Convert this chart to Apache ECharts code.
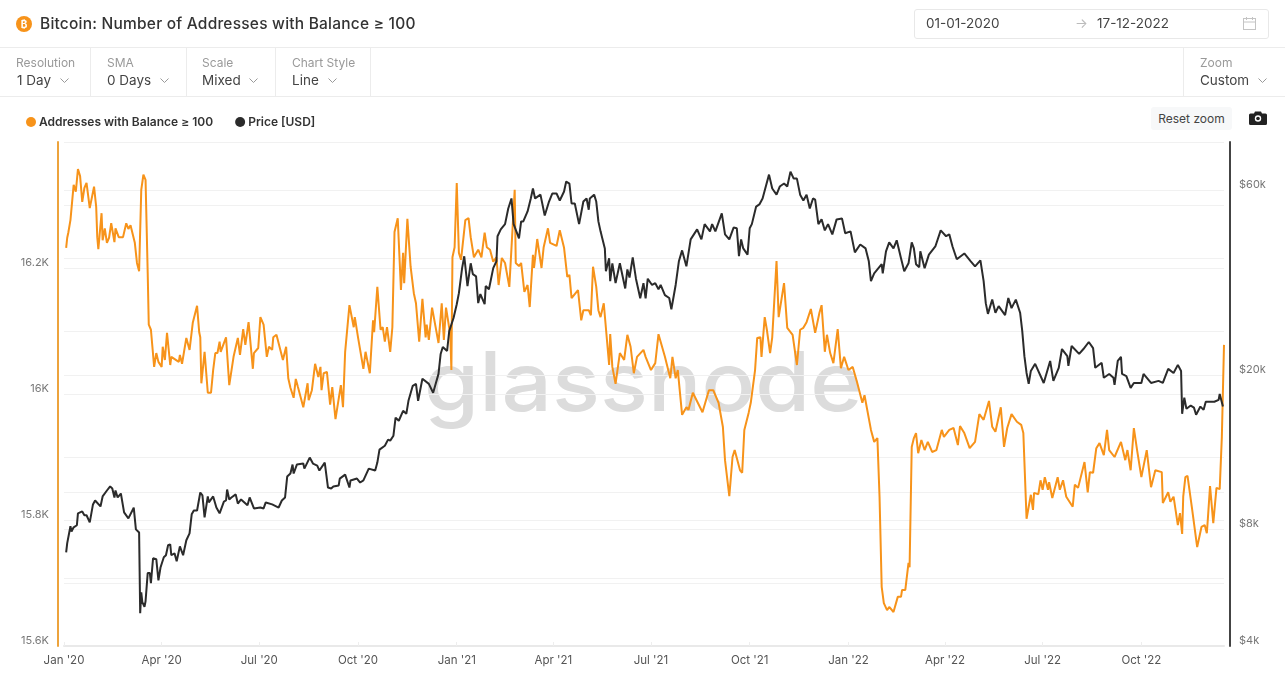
<!DOCTYPE html>
<html>
<head>
<meta charset="utf-8">
<title>Bitcoin: Number of Addresses with Balance ≥ 100</title>
<script src="https://cdn.jsdelivr.net/npm/echarts@6/dist/echarts.min.js"></script>
<style>
    html, body { margin: 0; padding: 0; background: #fff; font-family: Inter, "Noto Sans", sans-serif; color: #3c3c3c; }
    #page { position: relative; width: 1285px; height: 686px; overflow: hidden; }
    #chart { position: absolute; left: 0; top: 0; width: 1285px; height: 686px; }
    .abs { position: absolute; white-space: nowrap; }
    #btc { left: 16px; top: 16px; width: 16px; height: 16px; border-radius: 50%; background: #f7931a; color: #fff; font-size: 10px; font-weight: 700; line-height: 16px; text-align: center; }
    #title { left: 40px; top: 14px; font-size: 15.5px; line-height: 20px; font-weight: 500; letter-spacing: .22px; color: #333; }
    #dates { left: 914px; top: 9px; width: 353px; height: 28px; border: 1px solid #e8e8e8; border-radius: 3px; }
    .date { top: 5px; font-size: 13.5px; line-height: 16px; color: #444; }
    #bar { left: 0; top: 47px; width: 1285px; height: 48px; border-top: 1px solid #ececec; border-bottom: 1px solid #ececec; }
    .sep { top: 0; width: 1px; height: 48px; background: #ececec; }
    .lab { top: 7px; font-size: 12px; line-height: 15px; color: #999; }
    .val { top: 24px; font-size: 13.5px; line-height: 17px; color: #444; }
    .val svg { margin-left: 5px; vertical-align: 1px; }
    #reset { left: 1151px; top: 107px; width: 81px; height: 23px; background: #f7f8f9; border-radius: 3px; font-size: 12px; line-height: 23px; text-align: center; color: #444; }
</style>
</head>
<body>
<div id="page">
    <div id="chart"></div>
    <div class="abs" id="btc">₿</div>
    <div class="abs" id="title">Bitcoin: Number of Addresses with Balance ≥ 100</div>
    <div class="abs" id="dates">
        <span class="abs date" style="left:11px">01-01-2020</span>
        <span class="abs date" style="left:160px;color:#bbb">→</span>
        <span class="abs date" style="left:182px">17-12-2022</span>
        <svg class="abs" style="left:328px;top:7px" width="13" height="13" viewBox="0 0 13 13" fill="none" stroke="#c4c4c4"><rect x=".5" y="1.5" width="12" height="11"/><path d="M.5 5h12M3.5 0v3M9.5 0v3"/></svg>
    </div>
    <div class="abs" id="bar">
        <div class="abs sep" style="left:90px"></div>
        <div class="abs sep" style="left:186px"></div>
        <div class="abs sep" style="left:275px"></div>
        <div class="abs sep" style="left:370px"></div>
        <div class="abs sep" style="left:1183px"></div>
        <div class="abs lab" style="left:16px">Resolution</div>
        <div class="abs val" style="left:17px">1 Day <svg width="9" height="6"><path d="M.5.5l4 4 4-4" fill="none" stroke="#999"/></svg></div>
        <div class="abs lab" style="left:107px">SMA</div>
        <div class="abs val" style="left:107px">0 Days <svg width="9" height="6"><path d="M.5.5l4 4 4-4" fill="none" stroke="#999"/></svg></div>
        <div class="abs lab" style="left:202px">Scale</div>
        <div class="abs val" style="left:202px">Mixed <svg width="9" height="6"><path d="M.5.5l4 4 4-4" fill="none" stroke="#999"/></svg></div>
        <div class="abs lab" style="left:292px">Chart Style</div>
        <div class="abs val" style="left:292px">Line <svg width="9" height="6"><path d="M.5.5l4 4 4-4" fill="none" stroke="#999"/></svg></div>
        <div class="abs lab" style="left:1200px">Zoom</div>
        <div class="abs val" style="left:1200px">Custom <svg width="9" height="6"><path d="M.5.5l4 4 4-4" fill="none" stroke="#999"/></svg></div>
    </div>
    <div class="abs" id="reset">Reset zoom</div>
    <svg class="abs" style="left:1249px;top:111px" width="18" height="14" viewBox="0 0 18 14"><path d="M1.5 2.5h3.5l1-2h6l1 2h3.500q1.500 0 1.500 1.500v8.500q0 1.500-1.500 1.500h-15q-1.500 0-1.500-1.500v-8.500q0-1.500 1.500-1.500z" fill="#222"/><circle cx="9" cy="7.500" r="3.200" fill="#fff"/><circle cx="9" cy="7.500" r="1.800" fill="#222"/></svg>
</div>
<script>
// x positions are days since 2020-01-01
var tickDays = [0, 91, 182, 274, 366, 456, 547, 639, 731, 821, 912, 1004];
var tickLabels = ["Jan '20", "Apr '20", "Jul '20", "Oct '20", "Jan '21", "Apr '21", "Jul '21", "Oct '21", "Jan '22", "Apr '22", "Jul '22", "Oct '22"];
var lastDay = 1081;

var addressGrid = [15600, 15700, 15800, 15900, 16000, 16100, 16200, 16300, 16400];
var addressLabels = [15600, 15800, 16000, 16200];
var priceGrid = [4000, 6000, 8000, 10000, 20000, 40000, 60000];
var priceLabels = [4000, 8000, 20000, 60000];

var addressPoints = [
    [2,16232],[3,16248],[4,16256],[6,16276],[7,16278],[9,16332],[11,16321],[13,16357],[15,16346],[16,16344],
    [17,16305],[19,16327],[21,16335],[24,16295],[25,16295],[28,16329],[30,16297],[31,16249],[32,16230],[35,16287],
    [36,16244],[38,16263],[40,16240],[42,16248],[44,16271],[47,16241],[48,16263],[51,16249],[55,16249],[58,16271],
    [60,16262],[62,16268],[66,16240],[68,16208],[70,16195],[72,16324],[74,16348],[76,16340],[78,16192],[79,16110],
    [81,16102],[84,16043],[86,16065],[88,16051],[91,16043],[92,16075],[94,16054],[96,16097],[99,16046],[100,16059],
    [107,16051],[108,16062],[110,16048],[114,16089],[117,16070],[120,16113],[124,16140],[126,16098],[127,16090],[128,16017],
    [131,16067],[134,16002],[137,16002],[139,16038],[141,16065],[143,16065],[145,16083],[146,16067],[151,16090],[154,16014],
    [158,16059],[162,16089],[164,16062],[167,16103],[169,16078],[172,16114],[176,16040],[177,16065],[181,16073],[183,16122],
    [186,16110],[189,16059],[191,16075],[194,16070],[195,16090],[198,16094],[204,16054],[207,16075],[209,16025],[211,16010],
    [214,15994],[216,16024],[218,16011],[223,15979],[227,16017],[228,15990],[231,16006],[234,16048],[237,16027],[239,16043],
    [240,16006],[242,16033],[245,16035],[248,15983],[250,16011],[253,15960],[258,16014],[260,15979],[262,16067],[266,16141],
    [270,16106],[271,16122],[274,16090],[279,16040],[281,16067],[285,16033],[288,16117],[289,16098],[292,16170],[295,16102],
    [297,16106],[299,16083],[301,16106],[304,16067],[306,16106],[308,16257],[311,16279],[314,16165],[316,16224],[317,16176],
    [320,16278],[323,16202],[326,16160],[328,16144],[331,16083],[334,16151],[337,16090],[338,16110],[340,16086],[343,16137],
    [349,16081],[352,16144],[354,16086],[356,16137],[360,16094],[361,16038],[362,16217],[364,16233],[366,16335],[368,16224],
    [370,16213],[374,16276],[377,16279],[379,16249],[382,16217],[386,16229],[389,16217],[392,16256],[394,16233],[397,16229],
    [400,16210],[403,16217],[405,16173],[408,16216],[411,16208],[415,16170],[420,16324],[421,16208],[424,16203],[426,16208],
    [429,16162],[432,16173],[434,16138],[437,16221],[438,16200],[441,16246],[445,16200],[447,16233],[451,16263],[453,16240],
    [459,16235],[462,16260],[466,16232],[469,16186],[471,16189],[473,16152],[479,16165],[482,16117],[484,16133],[489,16133],
    [491,16125],[493,16202],[496,16170],[498,16133],[500,16122],[503,16144],[508,16046],[509,16095],[511,16043],[514,16016],
    [518,16065],[522,16054],[525,16094],[528,16075],[531,16033],[534,16059],[540,16070],[542,16059],[547,16038],[551,16049],
    [554,16095],[560,16059],[565,16025],[567,16059],[570,16025],[572,16038],[576,15967],[580,15979],[582,15975],[586,16002],
    [595,15971],[601,16006],[605,16006],[610,15986],[614,15948],[616,15895],[620,15838],[623,15900],[625,15911],[630,15879],
    [632,15875],[634,15943],[638,15970],[640,15986],[644,16038],[646,16089],[649,16090],[650,16059],[653,16122],[655,16102],
    [658,16065],[660,16090],[664,16211],[666,16122],[671,16176],[674,16105],[679,16094],[683,16046],[686,16102],[689,16105],
    [692,16114],[696,16135],[700,16097],[704,16129],[706,16141],[709,16067],[711,16094],[714,16065],[717,16049],[721,16103],
    [724,16041],[727,16059],[731,16038],[735,16043],[739,16019],[744,15986],[746,15998],[752,15943],[755,15924],[758,15930],
    [760,15837],[762,15694],[764,15668],[767,15657],[769,15662],[773,15654],[777,15678],[780,15678],[781,15689],[784,15689],
    [787,15732],[788,15725],[790,15916],[792,15930],[794,15938],[796,15906],[799,15927],[802,15911],[805,15924],[809,15908],
    [813,15911],[818,15943],[820,15932],[825,15943],[829,15946],[833,15919],[835,15949],[839,15938],[844,15914],[849,15924],
    [853,15968],[857,15959],[862,15989],[865,15948],[868,15940],[873,15979],[876,15916],[879,15946],[883,15968],[888,15956],
    [892,15951],[894,15938],[897,15802],[901,15840],[903,15816],[904,15843],[908,15841],[910,15863],[912,15848],[914,15868],
    [917,15848],[918,15860],[921,15835],[926,15868],[928,15848],[931,15863],[934,15837],[940,15821],[942,15856],[945,15851],
    [951,15892],[954,15844],[956,15876],[959,15875],[962,15914],[965,15922],[969,15903],[972,15943],[974,15911],[979,15900],
    [985,15924],[989,15895],[991,15911],[994,15879],[997,15946],[1000,15911],[1004,15868],[1009,15911],[1013,15852],[1017,15879],
    [1023,15876],[1024,15827],[1029,15844],[1031,15829],[1034,15837],[1038,15792],[1040,15811],[1042,15778],[1043,15837],[1045,15868],
    [1047,15870],[1051,15821],[1056,15757],[1060,15789],[1063,15792],[1065,15779],[1066,15803],[1068,15854],[1071,15795],[1074,15851],
    [1077,15849],[1079,15932],[1081,16078]
];

var pricePoints = [
    [2,6980],[3,7370],[4,7410],[6,8150],[7,7900],[9,8100],[12,8200],[13,8800],[17,8900],[19,8700],
    [21,8700],[24,8340],[27,9280],[29,9500],[34,9170],[36,9730],[40,10080],[43,10330],[45,10200],[47,9670],
    [48,10080],[50,9670],[53,9900],[56,8850],[60,8540],[65,9100],[67,8000],[70,7850],[71,4860],[72,5500],
    [73,5190],[75,5050],[76,5220],[78,6170],[80,6170],[81,5810],[83,6740],[86,6700],[88,5910],[90,6390],
    [93,6780],[95,6860],[97,7280],[99,7320],[100,6860],[103,6940],[105,6620],[108,7230],[111,6860],[114,7500],
    [117,7810],[119,8750],[121,8950],[124,8950],[127,9960],[129,9790],[131,8590],[134,9730],[135,9390],[139,9730],
    [142,9110],[145,8800],[146,8850],[149,9440],[151,9500],[152,10140],[154,9560],[156,9670],[160,9850],[162,9330],
    [165,9560],[171,9230],[173,9670],[177,9060],[183,9110],[186,9060],[188,9390],[194,9280],[200,9110],[203,9500],
    [206,9670],[208,10950],[211,11150],[213,11760],[214,11150],[217,11760],[223,11830],[224,11480],[229,12260],[232,11830],
    [236,11690],[238,11350],[243,11900],[246,10260],[249,10200],[251,10320],[256,10390],[257,10820],[262,11080],[266,10260],
    [267,10700],[273,10820],[276,10570],[279,10700],[284,11480],[290,11350],[292,11900],[294,12850],[299,13150],[302,13640],
    [304,13560],[307,13960],[309,15540],[312,15260],[316,16190],[319,15900],[321,17180],[325,18780],[328,19000],[330,17180],
    [334,19580],[340,19000],[344,18020],[349,20160],[351,22700],[353,23660],[357,23100],[359,26000],[363,28100],[366,30500],
    [368,32580],[371,37800],[373,40570],[376,33970],[379,38900],[381,36470],[384,36000],[386,30700],[388,32400],[392,30500],
    [393,34000],[396,33350],[400,37800],[403,39370],[404,45680],[407,47600],[411,49100],[414,53900],[417,57200],[419,49100],
    [424,45100],[426,49900],[428,49900],[432,52960],[435,57200],[437,60700],[439,57200],[444,58500],[448,51700],[452,56160],
    [455,58900],[459,58900],[462,56500],[466,59600],[468,63240],[471,62500],[473,55500],[476,55500],[480,49100],[484,56160],
    [487,57200],[489,53500],[490,57200],[494,58500],[496,56160],[498,49900],[500,47040],[504,42500],[505,37100],[508,40100],
    [509,34980],[511,38900],[514,34570],[518,38900],[523,33500],[525,37500],[527,35750],[530,40300],[533,35500],[537,31600],
    [540,34570],[542,31600],[544,35500],[548,34200],[551,34570],[554,33350],[556,34200],[560,32200],[564,31650],[566,29600],
    [570,34200],[573,39370],[576,42000],[580,38200],[584,44850],[587,46200],[590,47600],[594,44850],[597,49100],[602,47040],
    [604,49100],[607,47040],[613,52350],[616,46200],[620,44850],[624,48100],[627,47900],[629,40570],[631,44850],[633,42500],
    [637,40950],[639,47900],[641,49100],[645,54500],[648,55200],[651,57200],[654,61400],[657,65900],[660,60700],[664,58500],
    [667,61400],[671,62500],[674,61400],[677,67080],[680,64350],[683,64350],[686,58500],[689,56500],[692,58500],[695,53900],
    [698,57200],[700,56800],[703,49100],[706,50500],[709,47300],[712,49100],[716,46200],[720,50500],[725,50800],[728,46500],
    [733,47040],[737,41500],[742,43500],[747,42500],[750,39370],[752,34980],[755,36650],[762,38700],[763,36650],[766,41780],
    [769,44050],[773,42500],[776,44600],[780,40100],[783,37100],[787,38900],[790,44050],[792,42500],[794,38700],[797,38000],
    [798,41780],[802,37800],[806,40950],[812,43000],[817,47300],[822,45700],[825,46200],[828,43000],[832,39850],[839,41250],
    [845,39370],[849,38200],[854,39600],[857,34980],[859,30700],[861,28800],[865,31350],[868,29000],[871,30150],[877,28600],
    [880,31650],[883,29800],[887,31350],[891,29000],[893,26000],[895,22400],[897,20270],[899,19000],[901,20520],[905,21400],
    [913,19100],[919,21770],[922,19340],[927,20900],[930,23370],[935,22400],[936,21150],[939,23800],[946,22700],[950,23370],
    [955,24370],[959,23500],[961,20900],[967,21530],[969,19700],[974,20150],[978,19700],[979,18900],[982,21770],[985,22300],
    [986,20150],[990,19900],[994,18550],[997,19100],[1004,19100],[1006,20150],[1013,19100],[1020,19340],[1024,19100],[1029,20770],
    [1034,20270],[1038,21270],[1041,20520],[1042,15900],[1044,17500],[1046,16380],[1050,16700],[1053,16500],[1055,15820],[1059,16600],
    [1062,16280],[1064,17080],[1072,17080],[1076,17280],[1077,17900],[1080,16600]
];

var chart = echarts.init(document.getElementById('chart'));
var gridColor = '#f1f1f1';

chart.setOption({
    animation: false,
    textStyle: { fontFamily: 'Inter, "Noto Sans", sans-serif' },
    legend: {
        left: 21, top: 111, icon: 'circle', itemWidth: 10, itemHeight: 10, itemGap: 22,
        textStyle: { fontSize: 12, fontWeight: 600, color: '#333', padding: [0, 0, 0, -2] },
        data: ['Addresses with Balance ≥ 100', 'Price [USD]']
    },
    graphic: [{
        type: 'text', left: 424, top: 345, z: 0, silent: true, scaleX: 1.085,
        style: { text: 'glassnode', fontFamily: 'Inter', fontWeight: 500, fontSize: 82, fill: '#dcdcdc' }
    }],
    grid: { left: 64, top: 142, right: 61, bottom: 40 },
    xAxis: {
        type: 'value', min: 0, max: lastDay,
        splitLine: { show: false },
        axisLine: { show: true, lineStyle: { color: '#e9e9e9', width: 2 } },
        axisTick: { show: true, inside: true, length: 4, lineStyle: { color: '#eeeeee' }, customValues: tickDays },
        axisLabel: {
            color: '#555', fontSize: 11.5, margin: 9, customValues: tickDays,
            formatter: function (v) { return tickLabels[tickDays.indexOf(v)]; }
        }
    },
    yAxis: [{
        type: 'value', position: 'left', offset: 6, min: 15600, max: 16400,
        axisLine: { show: true, onZero: false, lineStyle: { color: '#eda33c', width: 2 } },
        axisTick: { show: false, customValues: addressGrid },
        splitLine: { lineStyle: { color: gridColor } },
        axisLabel: {
            color: '#777', fontSize: 11, margin: 9, verticalAlign: 'bottom', customValues: addressLabels,
            formatter: function (v) { return v / 1000 + 'K'; }
        }
    }, {
        type: 'log', position: 'right', offset: 6, min: 4000, max: 80000,
        axisLine: { show: true, onZero: false, lineStyle: { color: '#444', width: 2 } },
        axisTick: { show: false, customValues: priceGrid },
        splitLine: { show: true, lineStyle: { color: gridColor } },
        axisLabel: {
            color: '#777', fontSize: 11, margin: 9, verticalAlign: 'bottom', customValues: priceLabels,
            formatter: function (v) { return '$' + Math.round(v / 1000) + 'k'; }
        }
    }],
    series: [{
        name: 'Addresses with Balance ≥ 100', type: 'line', yAxisIndex: 0, data: addressPoints,
        showSymbol: false, z: 3, itemStyle: { color: '#f7931a' }, lineStyle: { color: '#f7931a', width: 2 }
    }, {
        name: 'Price [USD]', type: 'line', yAxisIndex: 1, data: pricePoints,
        showSymbol: false, z: 4, itemStyle: { color: '#2b2b2b' }, lineStyle: { color: '#2b2b2b', width: 2 }
    }]
});

window.addEventListener('resize', function () {
    chart.resize();
});
</script>
</body>
</html>
